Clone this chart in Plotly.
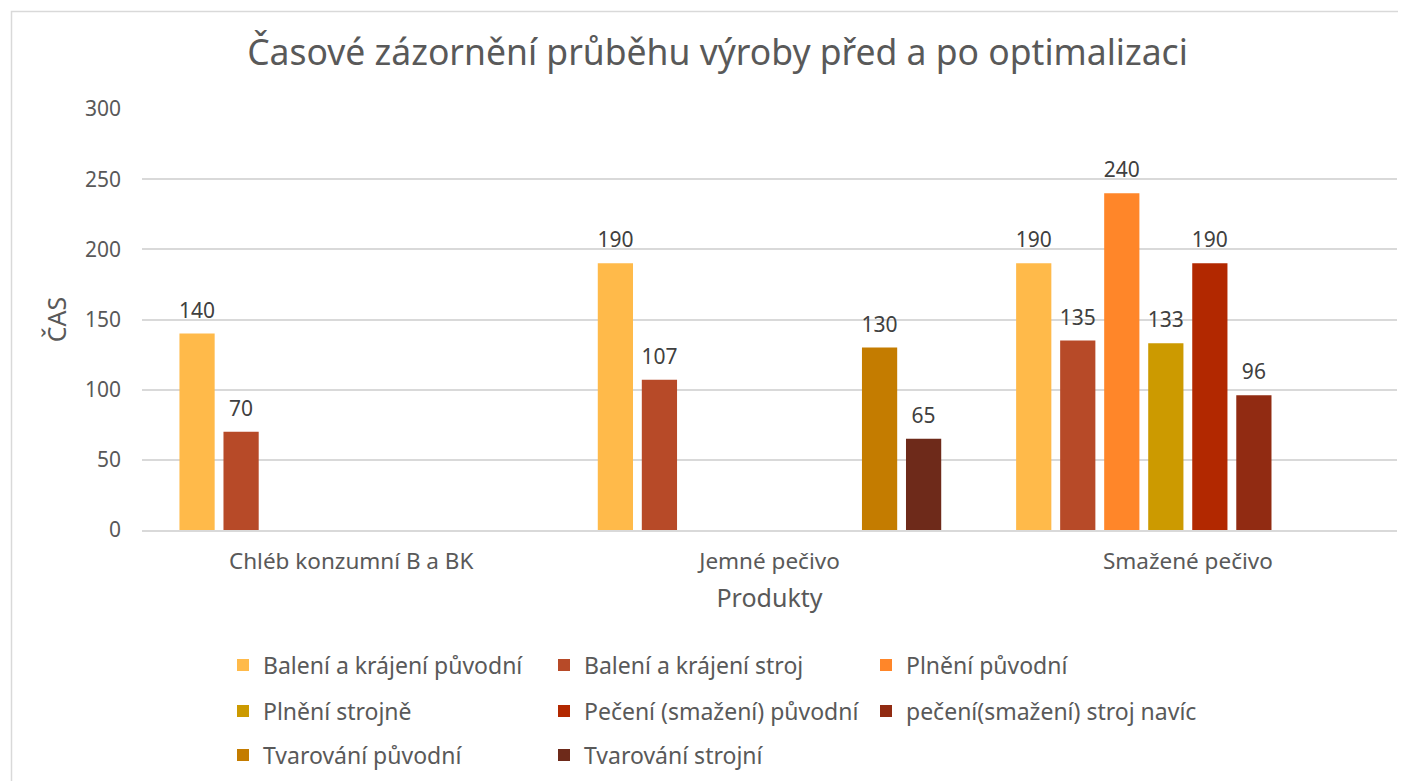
import plotly.graph_objects as go

categories = ["Chléb konzumní B a BK", "Jemné pečivo", "Smažené pečivo"]
series_names = [
    "Balení a krájení původní",
    "Balení a krájení stroj",
    "Plnění původní",
    "Plnění strojně",
    "Pečení (smažení) původní",
    "pečení(smažení) stroj navíc",
    "Tvarování původní",
    "Tvarování strojní",
]
baleni_puvodni = [140, 190, 190]
baleni_stroj = [70, 107, 135]
plneni_puvodni = [None, None, 240]
plneni_strojne = [None, None, 133]
peceni_puvodni = [None, None, 190]
peceni_stroj = [None, None, 96]
tvarovani_puvodni = [None, 130, None]
tvarovani_strojni = [None, 65, None]

series_values = [baleni_puvodni, baleni_stroj, plneni_puvodni, plneni_strojne,
                 peceni_puvodni, peceni_stroj, tvarovani_puvodni, tvarovani_strojni]
colors = ["#FFBA4A", "#B74A28", "#FF8629", "#CC9A00", "#B22800", "#912B12", "#C47C00", "#6E2A1A"]

FONT = "Noto Sans"
OFF = 8  # page body margin offset
W, H = 1406 - OFF, 781 - OFF
# plot area in page pixels
PL, PT, PR, PB = 142, 109, 1397, 530
L, T = PL - OFF, PT - OFF
R, B = W - (PR - OFF), H - (PB - OFF)
pw, ph = W - L - R, H - T - B

def px2x(px):
    return (px - OFF - L) / pw

def py2y(py):
    return (PB - py) / ph

def py2c(py):
    return 1 - (py - OFF) / H

# legend grid (3 columns) in page pixels
LEG_COLS = [223, 544, 866]
LEG_ROWS = [665, 711, 755]

# invisible padding spans lift the value labels a little above the bars
PAD = "<span style='font-size:44px'>\u00a0</span>"

fig = go.Figure()
legends = {}
for i, (name, vals, col) in enumerate(zip(series_names, series_values, colors)):
    key = "legend" if i == 0 else f"legend{i + 1}"
    fig.add_trace(go.Bar(
        x=categories, y=vals, name=name, legend=key, showlegend=True,
        marker=dict(color=col, line=dict(width=0)),
        text=[("" if v is None else PAD + str(v) + PAD) for v in vals],
        textposition="outside", cliponaxis=False, constraintext="none",
        textfont=dict(family=FONT, size=21, color="#404040"),
    ))
    legends[key] = dict(
        orientation="h", font=dict(family=FONT, size=23, color="#595959"),
        xanchor="left", yanchor="middle", bgcolor="rgba(0,0,0,0)",
        xref="paper", yref="container", visible=True,
        x=px2x(LEG_COLS[i % 3]), y=py2c(LEG_ROWS[i // 3]),
    )

fig.update_layout(
    width=W, height=H,
    margin=dict(l=L, r=R, t=T, b=B),
    paper_bgcolor="white", plot_bgcolor="white",
    showlegend=True,
    barmode="group", bargap=0.158, bargroupgap=0.2,
    title=dict(text="Časové zázornění průběhu výroby před a po optimalizaci",
               font=dict(family=FONT, size=35.5, color="#595959"),
               x=px2x(717.5), xref="paper", xanchor="center",
               y=py2c(53), yanchor="middle"),
    xaxis=dict(title=dict(text="Produkty", font=dict(family=FONT, size=25, color="#595959"), standoff=15),
               tickfont=dict(family=FONT, size=22.5, color="#595959"), ticklabelstandoff=10,
               showline=True, linecolor="#D9D9D9", linewidth=1.5, ticks="", showgrid=False,
               automargin=False),
    yaxis=dict(title=dict(text="ČAS", font=dict(family=FONT, size=25, color="#595959"), standoff=11),
               range=[0, 300], dtick=50, tickfont=dict(family=FONT, size=21, color="#595959"),
               gridcolor="#D9D9D9", gridwidth=1.5, zeroline=False, ticks="", ticklabelstandoff=20,
               automargin=False),
    shapes=[dict(type="rect", xref="paper", yref="paper",
                 x0=px2x(11.5), y0=py2y(800), x1=px2x(1430), y1=py2y(11.5),
                 line=dict(color="#D9D9D9", width=1.5), fillcolor="rgba(0,0,0,0)", layer="below")],
    **legends,
)

fig.write_html("out.html")
